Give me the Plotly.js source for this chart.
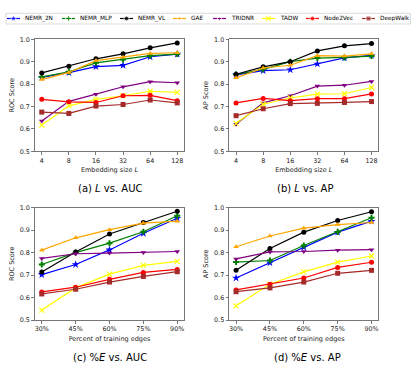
<!DOCTYPE html>
<html>
<head>
<meta charset="utf-8">
<script src="https://cdn.plot.ly/plotly-3.0.1.min.js"></script>
<style>
  html, body { margin: 0; padding: 0; background: #ffffff; }
  #chart { width: 415px; height: 369px; }
</style>
</head>
<body>
<div id="chart"></div>
<script>
// ---- data ----
const embedSizes = ['4', '8', '16', '32', '64', '128'];
const trainPercents = ['30%', '45%', '60%', '75%', '90%'];
const methods = ['NEMR_2N', 'NEMR_MLP', 'NEMR_VL', 'GAE', 'TRIDNR', 'TADW', 'Node2Vec', 'DeepWalk'];

// rows follow the order of `methods`
const aucBySize = [
    [0.830, 0.851, 0.878, 0.884, 0.922, 0.934],
    [0.832, 0.855, 0.895, 0.910, 0.927, 0.934],
    [0.850, 0.880, 0.913, 0.935, 0.962, 0.984],
    [0.820, 0.852, 0.905, 0.920, 0.937, 0.940],
    [0.635, 0.723, 0.755, 0.788, 0.811, 0.806],
    [0.617, 0.703, 0.732, 0.748, 0.768, 0.763],
    [0.732, 0.721, 0.718, 0.748, 0.750, 0.726],
    [0.675, 0.669, 0.702, 0.709, 0.729, 0.716]
];
const apBySize = [
    [0.841, 0.860, 0.864, 0.890, 0.917, 0.928],
    [0.843, 0.866, 0.900, 0.916, 0.919, 0.925],
    [0.844, 0.877, 0.900, 0.948, 0.971, 0.981],
    [0.828, 0.872, 0.884, 0.927, 0.925, 0.935],
    [0.621, 0.716, 0.748, 0.791, 0.795, 0.812],
    [0.625, 0.710, 0.738, 0.755, 0.757, 0.785],
    [0.716, 0.736, 0.726, 0.735, 0.735, 0.756],
    [0.659, 0.690, 0.713, 0.714, 0.718, 0.722]
];
const aucByPercent = [
    [0.702, 0.747, 0.812, 0.886, 0.953],
    [0.747, 0.800, 0.842, 0.893, 0.964],
    [0.714, 0.803, 0.883, 0.934, 0.984],
    [0.811, 0.866, 0.902, 0.931, 0.940],
    [0.774, 0.795, 0.798, 0.801, 0.805],
    [0.544, 0.643, 0.704, 0.743, 0.761],
    [0.625, 0.646, 0.681, 0.712, 0.725],
    [0.616, 0.637, 0.669, 0.694, 0.715]
];
const apByPercent = [
    [0.687, 0.755, 0.824, 0.891, 0.940],
    [0.758, 0.765, 0.832, 0.892, 0.955],
    [0.722, 0.818, 0.891, 0.943, 0.982],
    [0.826, 0.874, 0.909, 0.925, 0.934],
    [0.772, 0.803, 0.805, 0.811, 0.813],
    [0.563, 0.659, 0.714, 0.758, 0.785],
    [0.634, 0.659, 0.687, 0.734, 0.757],
    [0.626, 0.643, 0.669, 0.708, 0.721]
];

// ---- styles ----
const colors = ['#0000ff', '#008000', '#000000', '#ffa500', '#800080', '#ffff00', '#ff0000', '#a52a2a'];
const symbols = ['star', 'cross', 'circle', 'triangle-up', 'triangle-down', 'x-thin-open', 'circle', 'square'];
const markerSizes = [6, 5, 5, 5, 5, 5, 5, 5];
// left edge of each hand-drawn legend entry (px)
const legendStarts = [7, 62, 120, 173, 213, 262, 306, 362];

const FONT = 'DejaVu Sans, sans-serif';
const W = 415, H = 369;

function markerFor(i) {
    const m = { color: colors[i], size: markerSizes[i], symbol: symbols[i] };
    if (symbols[i] === 'x-thin-open') m.line = { color: colors[i], width: 1.2 };
    return m;
}

const panels = [
    { x: embedSizes, rows: aucBySize, xa: 'x', ya: 'y' },
    { x: embedSizes, rows: apBySize, xa: 'x2', ya: 'y2' },
    { x: trainPercents, rows: aucByPercent, xa: 'x3', ya: 'y3' },
    { x: trainPercents, rows: apByPercent, xa: 'x4', ya: 'y4' }
];

const traces = [];
panels.forEach(p => {
    methods.forEach((name, i) => {
        traces.push({
            type: 'scatter',
            mode: 'lines+markers',
            x: p.x,
            y: p.rows[i],
            name: name,
            xaxis: p.xa,
            yaxis: p.ya,
            line: { color: colors[i], width: 1.2 },
            marker: markerFor(i),
            showlegend: false,
            cliponaxis: false
        });
    });
});

// legend entries drawn on a hidden pixel-scaled axis
const annotations = [];
methods.forEach((name, i) => {
    const s = legendStarts[i];
    traces.push({
        type: 'scatter',
        mode: 'lines+markers',
        x: [s, s + 6.5, s + 13],
        y: [0.5, 0.5, 0.5],
        xaxis: 'x5',
        yaxis: 'y5',
        line: { color: colors[i], width: 1.2 },
        marker: Object.assign(markerFor(i), { size: [0, markerSizes[i], 0] }),
        showlegend: false,
        hoverinfo: 'skip'
    });
    annotations.push({
        xref: 'x5', yref: 'y5', x: s + 16, y: 0.5,
        text: name, showarrow: false, xanchor: 'left', yanchor: 'middle',
        font: { family: FONT, size: 5.8, color: '#000000' }
    });
});

// subplot captions
const captions = [
    { text: '(a) <i>L</i> vs. AUC', x: 110, y: 188 },
    { text: '(b) <i>L</i> vs. AP', x: 305, y: 188 },
    { text: '(c) %<i>E</i> vs. AUC', x: 110, y: 357 },
    { text: '(d) %<i>E</i> vs. AP', x: 307, y: 357 }
];
captions.forEach(c => {
    annotations.push({
        xref: 'paper', yref: 'paper', x: c.x / W, y: 1 - c.y / H,
        text: c.text, showarrow: false, xanchor: 'center', yanchor: 'middle',
        font: { family: FONT, size: 10, color: '#000000' }
    });
});

const tickFont = { family: FONT, size: 6.4, color: '#1a1a1a' };
const titleFont = { family: FONT, size: 6.5, color: '#1a1a1a' };

function xAxis(domain, anchor, n, title) {
    return {
        domain: domain, anchor: anchor, type: 'category',
        range: [-0.05 * (n - 1), (n - 1) * 1.05],
        showgrid: false, zeroline: false,
        showline: true, mirror: true, linecolor: '#555555', linewidth: 0.8,
        ticks: 'outside', ticklen: 3, tickwidth: 0.8, tickcolor: '#555555',
        tickfont: tickFont,
        title: { text: title, font: titleFont, standoff: 3 }
    };
}
function yAxis(domain, anchor, title) {
    return {
        domain: domain, anchor: anchor,
        range: [0.5, 1.0], dtick: 0.1, tickformat: '.1f',
        showgrid: false, zeroline: false,
        showline: true, mirror: true, linecolor: '#555555', linewidth: 0.8,
        ticks: 'outside', ticklen: 3, tickwidth: 0.8, tickcolor: '#555555',
        tickfont: tickFont,
        title: { text: title, font: titleFont, standoff: 4 }
    };
}

const colA = [35 / W, 184 / W];
const colB = [229.3 / W, 378.3 / W];
const rowTop = [1 - 151.3 / H, 1 - 39.3 / H];
const rowBot = [1 - 320 / H, 1 - 207.7 / H];

const layout = {
    width: W,
    height: H,
    margin: { l: 0, r: 0, t: 0, b: 0 },
    paper_bgcolor: '#ffffff',
    plot_bgcolor: '#ffffff',
    font: { family: FONT, size: 6.4, color: '#1a1a1a' },
    showlegend: false,
    xaxis: xAxis(colA, 'y', embedSizes.length, 'Embedding size <i>L</i>'),
    yaxis: yAxis(rowTop, 'x', 'ROC Score'),
    xaxis2: xAxis(colB, 'y2', embedSizes.length, 'Embedding size <i>L</i>'),
    yaxis2: yAxis(rowTop, 'x2', 'AP Score'),
    xaxis3: xAxis(colA, 'y3', trainPercents.length, 'Percent of training edges'),
    yaxis3: yAxis(rowBot, 'x3', 'ROC Score'),
    xaxis4: xAxis(colB, 'y4', trainPercents.length, 'Percent of training edges'),
    yaxis4: yAxis(rowBot, 'x4', 'AP Score'),
    xaxis5: { domain: [0, 1], anchor: 'y5', range: [0, W], visible: false, fixedrange: true },
    yaxis5: { domain: [1 - 24 / H, 1 - 13 / H], anchor: 'x5', range: [0, 1], visible: false, fixedrange: true },
    shapes: [{
        type: 'rect', xref: 'paper', yref: 'paper',
        x0: 6 / W, x1: 410.5 / W, y0: 1 - 24 / H, y1: 1 - 13.3 / H,
        line: { color: '#d0d0d0', width: 0.8 }, fillcolor: 'rgba(255,255,255,0.8)', layer: 'below'
    }],
    annotations: annotations
};

Plotly.newPlot('chart', traces, layout, { displayModeBar: false, staticPlot: true });
</script>
</body>
</html>
